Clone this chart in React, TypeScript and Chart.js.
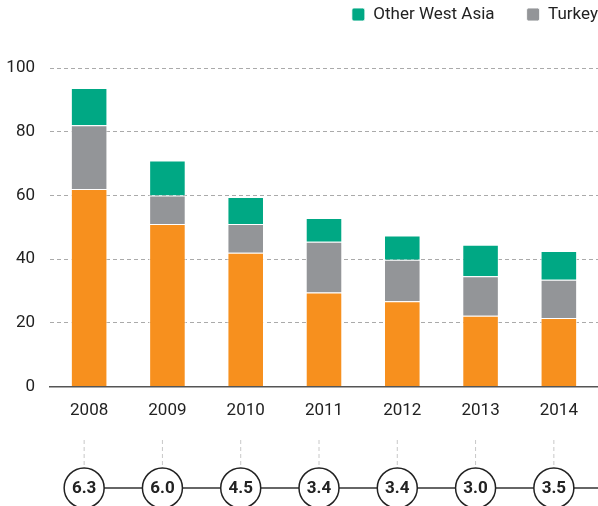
import React, { useEffect, useRef } from "react";
import { Chart, registerables } from "chart.js";

Chart.register(...registerables);

const years = ["2008", "2009", "2010", "2011", "2012", "2013", "2014"];
const baseSeries = [62, 51, 42, 29.5, 26.8, 22.2, 21.5];
const turkey = [20, 9, 9, 16, 13, 12.4, 12];
const otherWestAsia = [11.7, 11, 8.5, 7.4, 7.6, 9.9, 9.1];
const circleValues = ["6.3", "6.0", "4.5", "3.4", "3.4", "3.0", "3.5"];
const yTicks = [0, 20, 40, 60, 80, 100];

const FONT = "'Roboto', 'Liberation Sans', sans-serif";
const LEGEND_PAD = 32;

const legendSpacer = {
  id: "legendSpacer",
  beforeLayout(chart: any) {
    const lg = chart.legend;
    if (lg && !lg._patched) {
      const f = lg.fit.bind(lg);
      lg.fit = function () {
        f();
        this.height += 35;
      };
      lg._patched = true;
    }
  },
  afterLayout(chart: any) {
    const lg = chart.legend;
    if (lg) {
      lg.left += LEGEND_PAD;
      lg.right += LEGEND_PAD;
    }
  },
};

const circlesPlugin = {
  id: "circlesRow",
  afterDraw(chart: any) {
    const ctx = chart.ctx;
    const xs = chart.scales.x;
    const H = chart.height;
    const cy = H - 18;
    const r = 20;
    const pts = circleValues.map((_, i) => xs.getPixelForValue(i) - 5);
    ctx.save();
    ctx.strokeStyle = "#c8c8c8";
    ctx.lineWidth = 1;
    ctx.setLineDash([4, 3]);
    pts.forEach((x) => {
      ctx.beginPath();
      ctx.moveTo(x, H - 66);
      ctx.lineTo(x, H - 39);
      ctx.stroke();
    });
    ctx.setLineDash([]);
    ctx.strokeStyle = "#333";
    ctx.lineWidth = 1.5;
    ctx.beginPath();
    ctx.moveTo(pts[0], cy);
    ctx.lineTo(chart.width, cy);
    ctx.stroke();
    pts.forEach((x, i) => {
      ctx.beginPath();
      ctx.arc(x, cy, r, 0, Math.PI * 2);
      ctx.fillStyle = "#fff";
      ctx.fill();
      ctx.strokeStyle = "#222";
      ctx.lineWidth = 1.5;
      ctx.stroke();
      ctx.fillStyle = "#222";
      ctx.font = "bold 17px " + FONT;
      ctx.textAlign = "center";
      ctx.textBaseline = "middle";
      ctx.fillText(circleValues[i], x, cy + 1);
    });
    ctx.restore();
  },
};

export default function App() {
  const ref = useRef<HTMLCanvasElement | null>(null);
  useEffect(() => {
    if (!ref.current) return;
    const chart = new Chart(ref.current, {
      type: "bar",
      data: {
        labels: years,
        datasets: [
          {
            label: "Other",
            data: baseSeries,
            backgroundColor: "#F7901E",
            borderColor: "rgba(255,255,255,0.85)",
            borderWidth: 1,
          },
          {
            label: "Turkey",
            data: turkey,
            backgroundColor: "#939598",
            borderColor: "rgba(255,255,255,0.85)",
            borderWidth: 1,
          },
          {
            label: "Other West Asia",
            data: otherWestAsia,
            backgroundColor: "#00A884",
            borderColor: "rgba(255,255,255,0.85)",
            borderWidth: 1,
          },
        ],
      },
      options: {
        animation: false,
        responsive: true,
        maintainAspectRatio: false,
        layout: { padding: { top: -26, bottom: 71, left: 0, right: 0 } },
        datasets: { bar: { categoryPercentage: 1, barPercentage: 0.467 } },
        plugins: {
          tooltip: { enabled: false },
          legend: {
            position: "top",
            align: "end",
            reverse: true,
            labels: {
              filter: (item: any) => item.datasetIndex !== 0,
              boxWidth: 13,
              boxHeight: 13,
              useBorderRadius: true,
              borderRadius: 2,
              padding: LEGEND_PAD,
              color: "#222",
              font: { family: FONT, size: 17 },
            },
          },
        },
        scales: {
          x: {
            stacked: true,
            grid: { display: false, drawTicks: false },
            border: { display: true, color: "#555", width: 1.5 },
            ticks: { color: "#222", padding: 14, font: { family: FONT, size: 17 } },
          },
          y: {
            stacked: true,
            min: 0,
            max: 100,
            afterBuildTicks: (s: any) => {
              s.ticks = yTicks.map((v) => ({ value: v }));
            },
            afterFit: (s: any) => {
              s.width = 50;
            },
            grid: {
              color: (c: any) => (c.tick && c.tick.value === 0 ? "rgba(0,0,0,0)" : "#aaa"),
              drawTicks: false,
            },
            border: { display: false, dash: [4, 3] },
            ticks: { color: "#222", padding: 15, font: { family: FONT, size: 17 } },
          },
        },
      },
      plugins: [legendSpacer, circlesPlugin],
    } as any);
    return () => chart.destroy();
  }, []);
  return (
    <div style={{ position: "absolute", left: 0, top: 0, width: 598, height: 506 }}>
      <canvas ref={ref} />
    </div>
  );
}
